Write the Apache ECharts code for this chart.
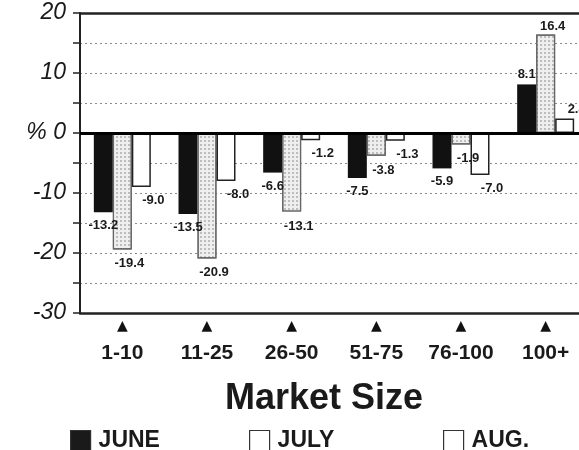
<!DOCTYPE html>
<html>
<head>
<meta charset="utf-8">
<script src="https://cdn.jsdelivr.net/npm/echarts@6/dist/echarts.min.js"></script>
<style>
html,body{margin:0;padding:0;background:#fff;}
#c{width:579px;height:450px;}
</style>
</head>
<body>
<div id="c"></div>
<script>
const categories = ['1-10', '11-25', '26-50', '51-75', '76-100', '100+'];
const june = [-13.2, -13.5, -6.6, -7.5, -5.9, 8.1];
const july = [-19.4, -20.9, -13.1, -3.8, -1.9, 16.4];
const aug = [-9.0, -8.0, -1.2, -1.3, -7.0, 2.4];
const seriesNames = ['JUNE', 'JULY', 'AUG.'];
const axisTitle = 'Market Size';

const FONT = "'Liberation Sans', Arial, sans-serif";

function toData(arr) {
  return arr.map(v => ({ value: v, label: { position: v < 0 ? 'bottom' : 'top' } }));
}

function makeSeries(name, arr, style, offset) {
  return {
    name: name,
    type: 'bar',
    barWidth: 19,
    barGap: '0%',
    data: toData(arr),
    itemStyle: style,
    label: {
      show: true,
      distance: 5,
      offset: offset,
      formatter: p => p.value.toFixed(1),
      fontFamily: FONT,
      fontSize: 13,
      fontWeight: 'bold',
      color: '#1a1a1a'
    }
  };
}

const chart = echarts.init(document.getElementById('c'));
const juneS = makeSeries(seriesNames[0], june, { color: '#111' }, [0, 2]);
juneS.markLine = {
  silent: true,
  symbol: 'none',
  label: { show: false },
  data: [
    { yAxis: 0, lineStyle: { color: '#000', width: 3, type: 'solid' } },
    { yAxis: 20, lineStyle: { color: '#222', width: 2.5, type: 'solid' } }
  ]
};
const julyS = makeSeries(seriesNames[1], july, {
  color: '#efefef',
  borderColor: '#666',
  borderWidth: 1.2,
  decal: {
    symbol: 'circle',
    symbolSize: 1,
    color: 'rgba(0,0,0,0.28)',
    dashArrayX: [1.4, 1.8],
    dashArrayY: [1.4, 1.8]
  }
}, [7, 3]);
const augS = makeSeries(seriesNames[2], aug, {
  color: '#fff',
  borderColor: '#222',
  borderWidth: 1.5
}, [12, 2]);

function legendAt(name, left) {
  return {
    data: [{ name: name, icon: 'rect', itemStyle: { color: name === 'JUNE' ? '#1a1a1a' : '#fff', borderColor: '#333', borderWidth: 1.2, decal: 'none' } }],
    left: left,
    top: 429,
    itemWidth: 20,
    itemHeight: 20,
    itemGap: 8,
    selectedMode: false,
    padding: 0,
    textStyle: { fontFamily: FONT, fontSize: 23, fontWeight: 'bold', color: '#1a1a1a', padding: [0, 0, 0, 3] }
  };
}

chart.setOption({
  animation: false,
  backgroundColor: '#fff',
  title: {
    text: axisTitle,
    left: 319,
    textAlign: 'center',
    top: 376,
    textStyle: { fontFamily: FONT, fontSize: 36, fontWeight: 'bold', color: '#1a1a1a' }
  },
  legend: [legendAt('JUNE', 70), legendAt('JULY', 249), legendAt('AUG.', 443)],
  grid: { left: 80, width: 508, top: 13, height: 300, containLabel: false, outerBoundsMode: 'none' },
  xAxis: {
    type: 'category',
    data: categories,
    axisLine: { onZero: false, lineStyle: { color: '#222', width: 2.5 } },
    axisTick: { show: false },
    axisLabel: {
      margin: 3,
      formatter: v => '{t|▲}\n{l|' + v + '}',
      rich: {
        t: { fontFamily: "'DejaVu Sans', sans-serif", fontSize: 14, lineHeight: 20, color: '#111' },
        l: { fontFamily: FONT, fontSize: 21, fontWeight: 'bold', lineHeight: 34, color: '#1a1a1a' }
      }
    }
  },
  yAxis: {
    type: 'value',
    min: -30,
    max: 20,
    interval: 5,
    axisLine: { show: true, lineStyle: { color: '#222', width: 2 } },
    axisTick: { show: true, length: 7, lineStyle: { color: '#222', width: 1.5 } },
    axisLabel: {
      margin: 14,
      formatter: v => (v === 0 ? '% 0' : (v % 10 === 0 ? String(v) : '')),
      fontFamily: FONT,
      fontSize: 23,
      fontStyle: 'italic',
      color: '#1a1a1a'
    },
    splitLine: { show: true, lineStyle: { color: '#8a8a8a', width: 1, type: [2, 3] } }
  },
  series: [juneS, julyS, augS]
});
</script>
</body>
</html>
